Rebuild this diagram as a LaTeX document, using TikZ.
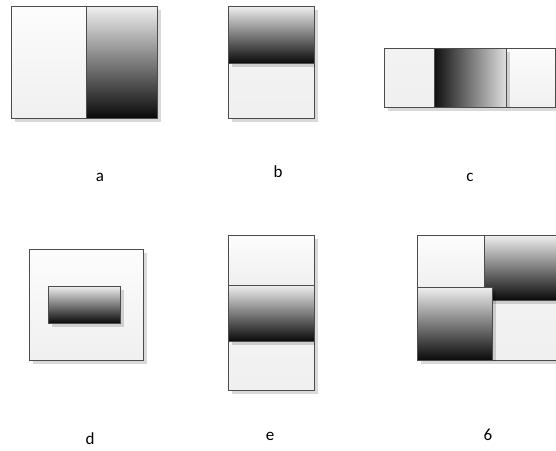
\documentclass[tikz,border=0pt]{standalone}
\usepackage{fontspec}
\setmainfont{Carlito}
\usetikzlibrary{shadows}
\tikzset{
  x=1pt, y=-1pt,
  frame/.style={draw=black!70, line width=0.9pt},
  shade/.style={drop shadow={shadow xshift=4pt, shadow yshift=-4pt, fill=black, opacity=0.15}},
  lightbox/.style={frame, shade, top color=white!99!black, bottom color=black!6},
  greybox/.style={frame, shade, top color=black!5, bottom color=black!6},
  darkdown/.style={frame, shade, top color=black!6, bottom color=black!96},
  darkleft/.style={frame, shade, left color=black!94, right color=black!13},
  caption/.style={font=\fontsize{17}{20}\selectfont, anchor=base, inner sep=0pt}
}
\begin{document}
\begin{tikzpicture}
\useasboundingbox (0,0) rectangle (556,450);
\fill[white] (0,0) rectangle (556,450);

% panel a: light half beside a half that darkens downwards
\path[lightbox] (11,6) rectangle (86,118);
\path[darkdown] (86,6) rectangle (157,118);
\node[caption] (la) at (100,181) {a};

% panel b: dark upper half over a light lower half
\path[greybox] (228,63) rectangle (314,118);
\path[darkdown] (228,6) rectangle (314,63);
\node[caption] (lb) at (278,177) {b};

% panel c: horizontal gradient between two light strips
\path[greybox] (384,48) rectangle (434,107);
\path[lightbox] (506,48) rectangle (555,107);
\path[darkleft] (434,48) rectangle (506,107);
\node[caption] (lc) at (470,181) {c};

% panel d: small gradient bar inside a light square
\path[lightbox] (29,249) rectangle (143,360);
\path[darkdown] (48,286) rectangle (120,323);
\node[caption] (ld) at (90,444) {d};

% panel e: gradient band between two light boxes
\path[lightbox] (228,235) rectangle (314,285);
\path[greybox] (228,341) rectangle (314,390);
\path[darkdown] (228,285) rectangle (314,341);
\node[caption] (le) at (270,440) {e};

% panel 6: staggered quadrants
\path[lightbox] (417,235) rectangle (484,287);
\path[greybox] (492,300) rectangle (562,360);
\path[darkdown] (484,235) rectangle (562,300);
\path[darkdown] (417,287) rectangle (492,360);
\node[caption] (l6) at (488,440) {6};
\end{tikzpicture}
\end{document}
